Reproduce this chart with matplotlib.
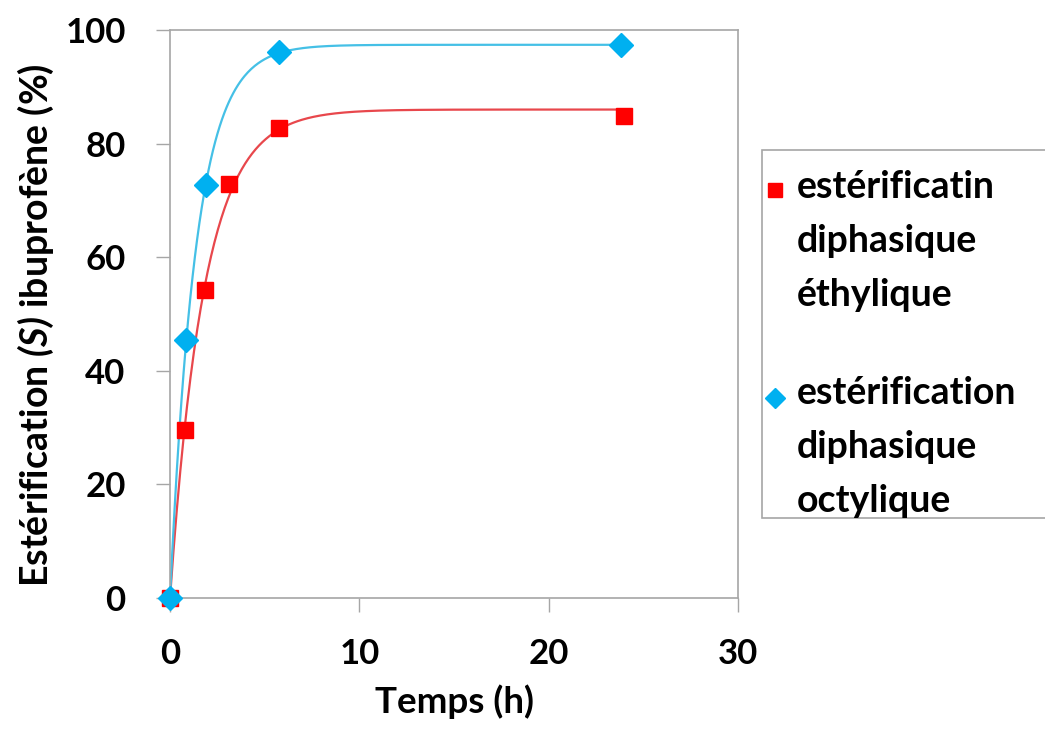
import numpy as np
import matplotlib
matplotlib.use("Agg")
import matplotlib.pyplot as plt
from matplotlib.lines import Line2D
from matplotlib.patches import Rectangle

# data
t_ethyl = [0, 0.8, 1.85, 3.1, 5.75, 24.0]
y_ethyl = [0, 29.5, 54.2, 72.9, 82.8, 84.9]
t_octyl = [0, 0.85, 1.9, 5.75, 23.8]
y_octyl = [0, 45.4, 72.7, 96.1, 97.4]

label_ethyl = "estérificatin\ndiphasique\néthylique"
label_octyl = "estérification\ndiphasique\noctylique"
xlabel = "Temps (h)"
ylabel = r"Estérification $\mathbfit{(S)}$ ibuprofène (%)"
xticks = [0, 10, 20, 30]
yticks = [0, 20, 40, 60, 80, 100]

red = '#FF0000'
blue = '#00B0F0'

plt.rcParams['font.family'] = ['Lato', 'DejaVu Sans']
plt.rcParams['font.weight'] = 'bold'
plt.rcParams['mathtext.fontset'] = 'custom'
plt.rcParams['mathtext.bfit'] = 'Lato:italic:bold'
plt.rcParams['mathtext.it'] = 'Lato:italic:bold'


def first_order_fit(t, y):
    # least squares fit of y = ymax * (1 - exp(-k t)) by grid search
    t = np.asarray(t, float)
    y = np.asarray(y, float)
    ymax = np.linspace(70, 110, 401)[:, None, None]
    k = np.linspace(0.05, 2, 391)[None, :, None]
    pred = ymax * (1 - np.exp(-k * t[None, None, :]))
    err = ((pred - y) ** 2).sum(axis=-1)
    i, j = np.unravel_index(np.argmin(err), err.shape)
    return ymax[i, 0, 0], k[0, j, 0]


def first_order(t, p):
    ymax, k = p
    return ymax * (1 - np.exp(-k * t))


fig = plt.figure(figsize=(10.45, 7.29), dpi=100)
ax = fig.add_axes([0.1627, 0.1797, 0.5436, 0.7791])

p_e = first_order_fit(t_ethyl, y_ethyl)
p_o = first_order_fit(t_octyl, y_octyl)
tc_e = np.linspace(0, max(t_ethyl), 400)
tc_o = np.linspace(0, max(t_octyl), 400)
ax.plot(tc_e, first_order(tc_e, p_e), color='#E8474C', lw=1.6, zorder=2)
ax.plot(tc_o, first_order(tc_o, p_o), color='#45C0E6', lw=1.6, zorder=2)

ax.plot(t_ethyl, y_ethyl, ls='none', marker='s', ms=11, color=red,
        zorder=3, clip_on=False)
ax.plot(t_octyl, y_octyl, ls='none', marker='D', ms=12, color=blue,
        zorder=4, clip_on=False)

ax.set_xlim(0, 30)
ax.set_ylim(0, 100)
ax.set_xticks(xticks)
ax.set_yticks(yticks)
ax.tick_params(direction='out', length=10, width=1, color='#A6A6A6',
               labelsize=25)
ax.tick_params(axis='x', pad=19)
ax.tick_params(axis='y', pad=22)
for s in ax.spines.values():
    s.set_color('#A6A6A6')
    s.set_linewidth(1.2)
ax.set_xlabel(xlabel, fontsize=26.5, fontweight='bold', labelpad=10)
ax.set_ylabel(ylabel, fontsize=27, fontweight='bold', labelpad=10)
ax.yaxis.set_label_coords(-0.2, 0.48)

# legend box, drawn by hand so the marker sits on the first line
fig.add_artist(Rectangle((0.7292, 0.2894), 0.29, 0.5048,
                         transform=fig.transFigure, facecolor='white',
                         edgecolor='#A6A6A6', lw=1.2))
for lab, mk, ms, col, ytop, ymk in [(label_ethyl, 's', 9.5, red, 0.7668, 0.7394),
                                    (label_octyl, 'D', 10, blue, 0.4842, 0.4540)]:
    fig.add_artist(Line2D([0.7416], [ymk], transform=fig.transFigure,
                          ls='none', marker=mk, ms=ms, color=col))
    fig.text(0.7625, ytop, lab, fontsize=27, fontweight='bold', va='top',
             ha='left', linespacing=1.71)

fig.savefig("out.png", dpi=100)
